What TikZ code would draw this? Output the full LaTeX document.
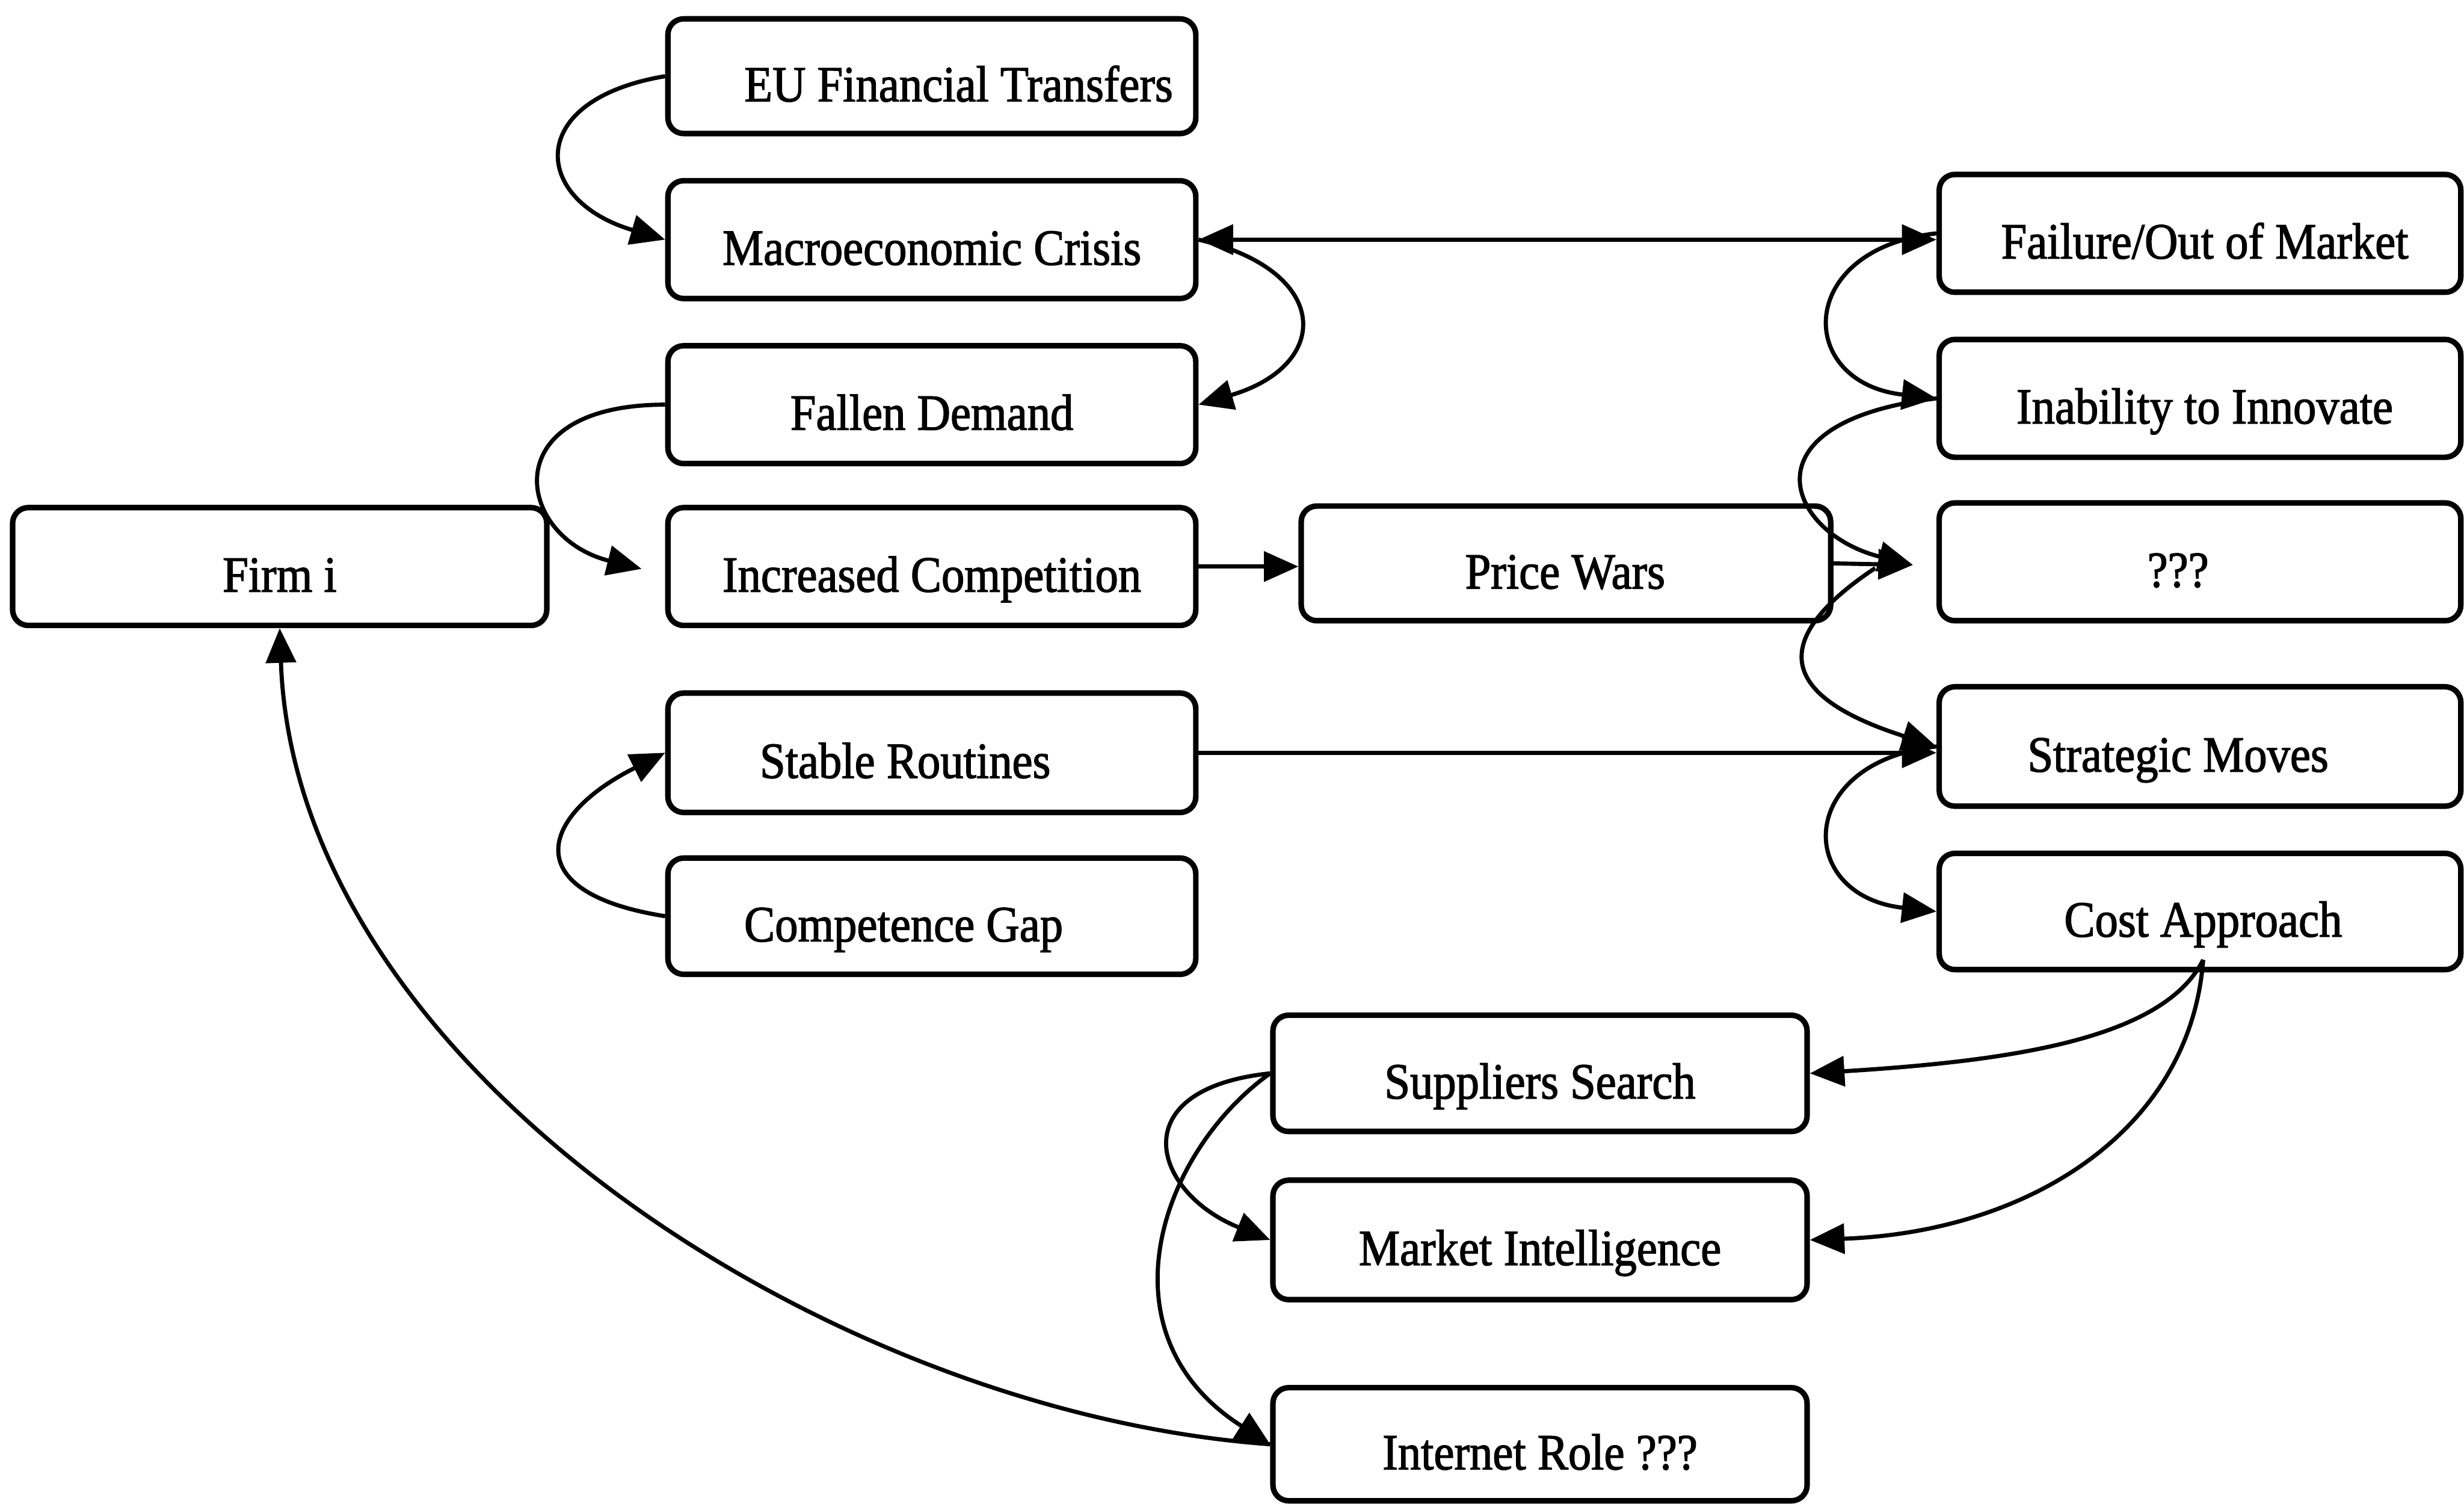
\documentclass[tikz,border=0pt]{standalone}
\usepackage{fontspec}
\setmainfont{Liberation Serif}
\newfontfamily\labelfont{Liberation Serif}[FakeBold=1.8]
\usepackage{graphicx}
\usetikzlibrary{arrows.meta,calc}
\newcommand\boxlabel[1]{\scalebox{1}[1.1]{#1}}
\begin{document}
\begin{tikzpicture}[x=0.02cm,y=0.02cm,
  box/.style={draw, line width=2pt, rounded corners=0.2cm, inner sep=0pt,
              minimum width=6.72cm, minimum height=1.5cm},
  lab/.style={anchor=base, inner sep=0pt, font=\labelfont\fontsize{16.7}{19}\selectfont},
  conn/.style={line width=1.5pt},
  arr/.style={conn, -{Triangle[length=0.44cm,width=0.38cm]}},
  darr/.style={conn, {Triangle[length=0.44cm,width=0.38cm]}-{Triangle[length=0.44cm,width=0.38cm]}}]
\useasboundingbox (0,0) rectangle (1568,957);

% left column
\node[box] (eu)     at (593,908.5) [minimum height=1.46cm] {};
\node[box] (macro)  at (593,804.5) {};
\node[box] (fallen) at (593,699.5) {};
\node[box] (incr)   at (593,596.5) {};
\node[box] (stable) at (593,478)   [minimum height=1.52cm] {};
\node[box] (comp)   at (593,374)   [minimum height=1.48cm] {};
\node[box] (firm)   at (178,596.5) [minimum width=6.8cm] {};
\node[box] (price)  at (996.5,598.5) [minimum width=6.74cm, minimum height=1.46cm] {};

% right column
\node[box] (fail)   at (1400,808.5) [minimum width=6.64cm] {};
\node[box] (inab)   at (1400,703.5) [minimum width=6.64cm] {};
\node[box] (qq)     at (1400,599.5) [minimum width=6.64cm] {};
\node[box] (strat)  at (1400,482)   [minimum width=6.64cm, minimum height=1.52cm] {};
\node[box] (cost)   at (1400,377)   [minimum width=6.64cm, minimum height=1.48cm] {};

% bottom group
\node[box] (supp)   at (980,274) [minimum width=6.8cm, minimum height=1.48cm] {};
\node[box] (mkt)    at (980,168) [minimum width=6.8cm, minimum height=1.52cm] {};
\node[box] (inet)   at (980,38)  [minimum width=6.8cm, minimum height=1.44cm] {};

% labels
\node[lab] (eu-t)     at (610,892.5)  {\boxlabel{EU Financial Transfers}};
\node[lab] (macro-t)  at (593,788.5)  {\boxlabel{Macroeconomic Crisis}};
\node[lab] (fallen-t) at (593,683.5)  {\boxlabel{Fallen Demand}};
\node[lab] (incr-t)   at (593,580.5)  {\boxlabel{Increased Competition}};
\node[lab] (stable-t) at (576,462)    {\boxlabel{Stable Routines}};
\node[lab] (comp-t)   at (575,358)    {\boxlabel{Competence Gap}};
\node[lab] (firm-t)   at (178,580.5)  {\boxlabel{Firm i}};
\node[lab] (price-t)  at (996,582.5)  {\boxlabel{Price Wars}};
\node[lab] (fail-t)   at (1403,792.5) {\boxlabel{Failure/Out of Market}};
\node[lab] (inab-t)   at (1403,687.5) {\boxlabel{Inability to Innovate}};
\node[lab] (qq-t)     at (1386,583.5) {\boxlabel{???}};
\node[lab] (strat-t)  at (1386,466)   {\boxlabel{Strategic Moves}};
\node[lab] (cost-t)   at (1402,361)   {\boxlabel{Cost Approach}};
\node[lab] (supp-t)   at (980,258)    {\boxlabel{Suppliers Search}};
\node[lab] (mkt-t)    at (980,152)    {\boxlabel{Market Intelligence}};
\node[lab] (inet-t)   at (980,22)     {\boxlabel{Internet Role ???}};

% free arrow ends
\coordinate (inctip) at ($(incr.west)+(-15,-1.5)$);
\coordinate (qtip)   at ($(qq.west)+(-15,-2)$);
\coordinate (dstart) at ($(qtip)+(-24,-2)$);
\coordinate (cstart) at ($(cost.south)+(2,8)$);

% left column links
\draw[arr] (eu.west) .. controls ($(eu.west)+(-90,-15)$) and ($(macro.west)+(-85,25)$) .. (macro.west);
\draw[darr] (macro.east) -- (macro.east -| fail.west);
\draw[arr] (macro.east) .. controls ($(macro.east)+(85,-20)$) and ($(fallen.east)+(85,25)$) .. (fallen.east);
\draw[arr] (fallen.west) .. controls ($(fallen.west)+(-110,0)$) and ($(inctip)+(-80,20)$) .. (inctip);
\draw[arr] (incr.east) -- (incr.east -| price.west);
\draw[arr] (comp.west) .. controls ($(comp.west)+(-95,15)$) and ($(stable.west)+(-80,-40)$) .. (stable.west);
\draw[arr] (stable.east) -- (stable.east -| strat.west);

% right column links
\draw[arr] (fail.west) .. controls ($(fail.west)+(-90,-10)$) and ($(inab.west)+(-90,10)$) .. (inab.west);
\draw[arr] (inab.west) .. controls ($(inab.west)+(-125,-15)$) and ($(qtip)+(-80,20)$) .. (qtip);
\draw[arr] (price.east) -- (qtip);
\draw[arr] (dstart) .. controls ($(dstart)+(-60,-40)$) and ($(strat.west)+(-110,35)$) .. (strat.west);
\draw[arr] (strat.west) .. controls ($(strat.west)+(-90,-10)$) and ($(cost.west)+(-90,10)$) .. (cost.west);

% cost approach branches
\draw[arr] (cstart) .. controls ($(cstart)+(-25,-50)$) and ($(supp.east)+(130,8)$) .. (supp.east);
\draw[arr] (cstart) .. controls ($(cstart)+(-8,-108)$) and ($(mkt.east)+(140,5)$) .. (mkt.east);

% bottom group links
\draw[arr] (supp.west) .. controls ($(supp.west)+(-95,-10)$) and ($(mkt.west)+(-75,30)$) .. (mkt.west);
\draw[arr] (supp.west) .. controls ($(supp.west)+(-70,-50)$) and ($(inet.west)+(-110,70)$) .. (inet.west);
\draw[arr] (inet.west) .. controls ($(inet.west)+(-280,20)$) and ($(firm.south)+(10,-280)$) .. (firm.south);
\end{tikzpicture}
\end{document}
